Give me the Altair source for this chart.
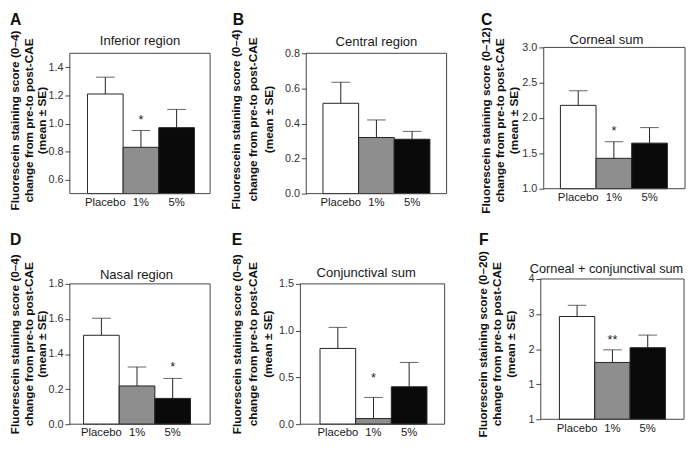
import altair as alt
import pandas as pd

FONT = "Liberation Sans"

# ---------------- data ----------------
groups = ["Placebo", "1%", "5%"]
bar_fills = ["#ffffff", "#8e8e8e", "#0a0a0a"]
y_line2 = "change from pre-to post-CAE"
y_line3 = "(mean ± SE)"

# A - Inferior region
a_title = "Inferior region"
a_scale_txt = "Fluorescein staining score (0–4)"
a_mean = [1.21, 0.83, 0.97]
a_upper = [1.33, 0.95, 1.10]
a_domain = [0.5, 1.5]
a_ticks = [0.6, 0.8, 1.0, 1.2, 1.4]
a_tick_labels = ["0.6", "0.8", "1.0", "1.2", "1.4"]
a_star_group = ["1%"]
a_star_pos = [1.045]
a_star_txt = ["*"]

# B - Central region
b_title = "Central region"
b_scale_txt = "Fluorescein staining score (0–4)"
b_mean = [0.515, 0.32, 0.31]
b_upper = [0.635, 0.42, 0.355]
b_domain = [0.0, 0.8]
b_ticks = [0.0, 0.2, 0.4, 0.6, 0.8]
b_tick_labels = ["0.0", "0.2", "0.4", "0.6", "0.8"]
b_star_group = []
b_star_pos = []
b_star_txt = []

# C - Corneal sum
c_title = "Corneal sum"
c_scale_txt = "Fluorescein staining score (0–12)"
c_mean = [2.18, 1.43, 1.645]
c_upper = [2.385, 1.665, 1.865]
c_domain = [1.0, 3.0]
c_ticks = [1.0, 1.5, 2.0, 2.5, 3.0]
c_tick_labels = ["1.0", "1.5", "2.0", "2.5", "3.0"]
c_star_group = ["1%"]
c_star_pos = [1.86]
c_star_txt = ["*"]

# D - Nasal region (tick labels as printed in the original)
d_title = "Nasal region"
d_scale_txt = "Fluorescein staining score (0–4)"
d_mean = [0.507, 0.218, 0.147]
d_upper = [0.604, 0.326, 0.261]
d_domain = [0.0, 0.8]
d_ticks = [0.0, 0.2, 0.4, 0.6, 0.8]
d_tick_labels = ["0.0", "0.2", "1.4", "1.6", "1.8"]
d_star_group = ["5%"]
d_star_pos = [0.341]
d_star_txt = ["*"]

# E - Conjunctival sum
e_title = "Conjunctival sum"
e_scale_txt = "Fluorescein staining score (0–8)"
e_mean = [0.81, 0.06, 0.40]
e_upper = [1.035, 0.286, 0.66]
e_domain = [0.0, 1.5]
e_ticks = [0.0, 0.5, 1.0, 1.5]
e_tick_labels = ["0.0", "0.5", "1.0", "1.5"]
e_star_group = ["1%"]
e_star_pos = [0.524]
e_star_txt = ["*"]

# F - Corneal + conjunctival sum (tick labels as printed in the original)
f_title = "Corneal + conjunctival sum"
f_scale_txt = "Fluorescein staining score (0–20)"
f_mean = [2.93, 1.62, 2.04]
f_upper = [3.25, 1.98, 2.40]
f_domain = [0.0, 4.0]
f_ticks = [0, 1, 2, 3, 4]
f_tick_labels = ["1", "1", "2", "3", "4"]
f_star_group = ["1%"]
f_star_pos = [2.35]
f_star_txt = ["**"]


def label_expr(ticks, labels):
    expr = "''"
    for t, l in reversed(list(zip(ticks, labels))):
        expr = f"abs(datum.value - ({t})) < 0.000001 ? '{l}' : ({expr})"
    return expr


def panel(letter, title, scale_txt, mean, upper, domain, ticks, tick_labels,
          star_group, star_pos, star_txt, lay):
    W = lay["W"]
    fy0, fy1 = lay["fy"]
    df = pd.DataFrame({"group": groups, "mean": mean, "upper": upper,
                       "base": [domain[0]] * 3})
    xs = alt.Scale(domain=groups, range=lay["band"], paddingInner=0, paddingOuter=0)
    xa = alt.Axis(title=None, labelAngle=0, ticks=False, tickSize=0, domain=False,
                  grid=False, labelFont=FONT, labelFontSize=11.5, labelColor="#1a1a1a",
                  labelPadding=3)
    X = alt.X("group:N", sort=groups, scale=xs, axis=xa)
    ys = alt.Scale(domain=domain, range=[fy1, fy0], zero=False, nice=False)
    ya = alt.Axis(title=[scale_txt, y_line2, y_line3], values=ticks,
                  labelExpr=label_expr(ticks, tick_labels), grid=False, domain=False,
                  tickSize=5, tickColor="#444444", tickWidth=1,
                  labelFont=FONT, labelFontSize=11, labelColor="#333333", labelPadding=2,
                  titleFont=FONT, titleFontSize=12, titleFontWeight="bold",
                  titleColor="#111111", titleLineHeight=lay["lh"], titleAngle=-90,
                  titleAlign="center", titleBaseline="top",
                  titleX=lay["titleX"], titleY=lay["titleY"])

    def Y(f):
        return alt.Y(f"{f}:Q", scale=ys, axis=ya)

    bars = alt.Chart(df).mark_bar(stroke="#222222", strokeWidth=1).encode(
        x=X, y=Y("mean"), y2="base:Q",
        fill=alt.Fill("group:N", scale=alt.Scale(domain=groups, range=bar_fills), legend=None))
    rules = alt.Chart(df).mark_rule(color="#222222", strokeWidth=1).encode(
        x=X, y=Y("mean"), y2="upper:Q")
    caps = alt.Chart(df).mark_tick(color="#222222", thickness=1, size=19).encode(
        x=X, y=Y("upper"))
    layers = [bars, rules, caps]
    if star_group:
        sdf = pd.DataFrame({"group": star_group, "pos": star_pos, "txt": star_txt})
        stars = alt.Chart(sdf).mark_text(font=FONT, fontSize=13, baseline="alphabetic",
                                          dy=7, color="#222222").encode(
            x=X, y=Y("pos"), text="txt:N")
        layers.append(stars)
    one = pd.DataFrame({"t": [title], "l": [letter]})
    frame = alt.Chart(one).mark_rect(fill="#ffffff", fillOpacity=0, stroke="#444444",
                                     strokeWidth=1).encode(
        x=alt.value(0), x2=alt.value(W), y=alt.value(fy0), y2=alt.value(fy1))
    ttl = alt.Chart(one).mark_text(font=FONT, fontSize=lay.get("tfs", 13.3), align="center",
                                   baseline="middle", color="#1a1a1a").encode(
        x=alt.value(lay["tx"]), y=alt.value(lay["ty"]), text="t:N")
    let = alt.Chart(one).mark_text(font=FONT, fontSize=16, fontWeight="bold",
                                   align="left", baseline="alphabetic",
                                   color="#111111").encode(
        x=alt.value(lay["lx"]), y=alt.value(lay["ly"]), text="l:N")
    layers += [frame, ttl, let]
    return alt.layer(*layers).properties(width=W, height=fy1)


lay_a = dict(W=143, fy=(0, 143), band=[18, 127], titleX=-61, titleY=68, lh=13.5,
             tx=71.5, ty=-12.5, lx=-61, ly=-29)
lay_b = dict(W=143, fy=(0, 143), band=[17, 126], titleX=-77, titleY=67, lh=17,
             tx=71.5, ty=-11, lx=-75, ly=-29)
lay_c = dict(W=144, fy=(-6, 138), band=[17, 126], titleX=-64, titleY=68, lh=14,
             tx=64, ty=-13, lx=-64, ly=-29)
lay_d = dict(W=143, fy=(0, 143), band=[14, 123], titleX=-61, titleY=61, lh=13.5,
             tx=68, ty=-9, lx=-61, ly=-40)
lay_e = dict(W=147, fy=(0, 143), band=[20, 129], titleX=-70, titleY=61, lh=16,
             tx=67, ty=-11, lx=-70, ly=-40)
lay_f = dict(W=146, fy=(-5, 138), band=[19, 127], titleX=-64, titleY=61, lh=14,
             tx=67, ty=-15, lx=-63, ly=-40, tfs=13)

pA = panel("A", a_title, a_scale_txt, a_mean, a_upper, a_domain, a_ticks, a_tick_labels,
           a_star_group, a_star_pos, a_star_txt, lay_a)
pB = panel("B", b_title, b_scale_txt, b_mean, b_upper, b_domain, b_ticks, b_tick_labels,
           b_star_group, b_star_pos, b_star_txt, lay_b)
pC = panel("C", c_title, c_scale_txt, c_mean, c_upper, c_domain, c_ticks, c_tick_labels,
           c_star_group, c_star_pos, c_star_txt, lay_c)
pD = panel("D", d_title, d_scale_txt, d_mean, d_upper, d_domain, d_ticks, d_tick_labels,
           d_star_group, d_star_pos, d_star_txt, lay_d)
pE = panel("E", e_title, e_scale_txt, e_mean, e_upper, e_domain, e_ticks, e_tick_labels,
           e_star_group, e_star_pos, e_star_txt, lay_e)
pF = panel("F", f_title, f_scale_txt, f_mean, f_upper, f_domain, f_ticks, f_tick_labels,
           f_star_group, f_star_pos, f_star_txt, lay_f)

row1 = alt.hconcat(alt.hconcat(pA, pB, spacing=18), pC, spacing=32)
row2 = alt.hconcat(alt.hconcat(pD, pE, spacing=20), pF, spacing=32)

chart = (
    alt.vconcat(row1, row2, spacing=18)
    .properties(padding=0, background="#ffffff")
    .configure(font=FONT)
    .configure_view(strokeWidth=0)
)

chart.save("out.html", embed_options={"renderer": "svg", "actions": False})
